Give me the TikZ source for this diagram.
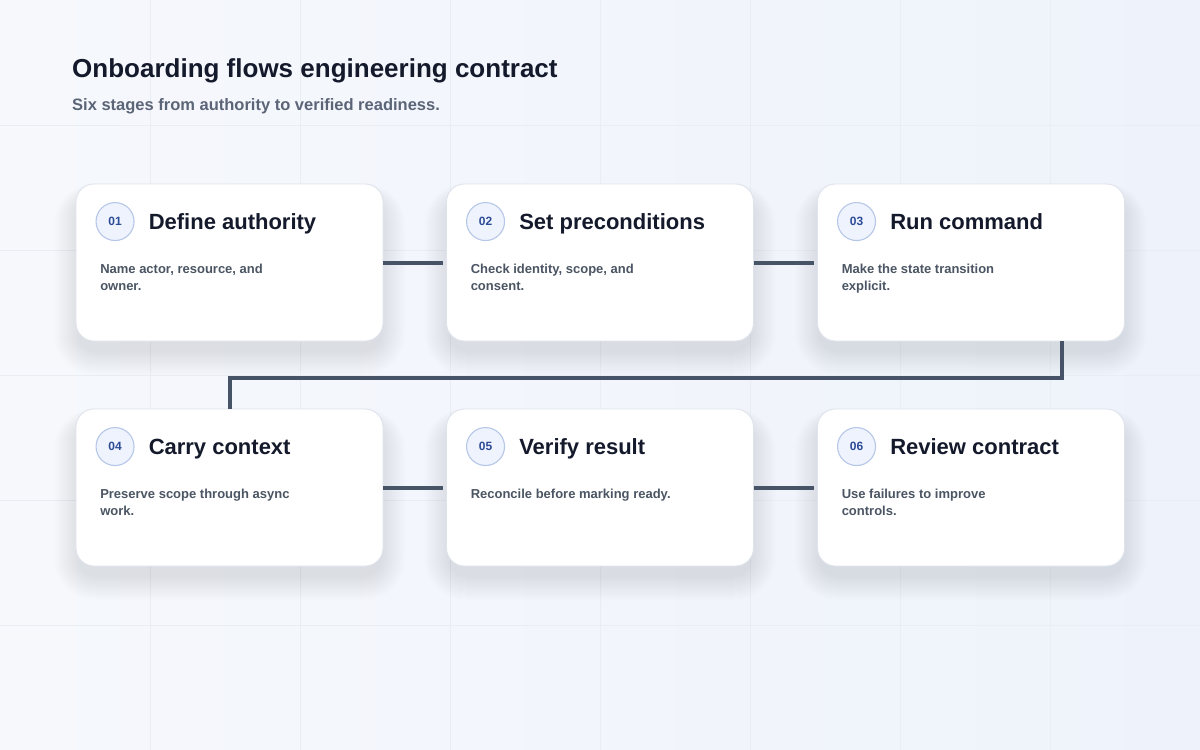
\documentclass[tikz,border=0pt]{standalone}
\usepackage{fontspec}
\setmainfont{Liberation Sans}
\usetikzlibrary{calc}
\definecolor{bgA}{HTML}{F6F8FC}
\definecolor{bgB}{HTML}{EEF3FB}
\definecolor{gridc}{HTML}{E9EDF4}
\definecolor{cardedge}{HTML}{DFE4EC}
\definecolor{titlec}{HTML}{141A2B}
\definecolor{subc}{HTML}{5B6577}
\definecolor{bodyc}{HTML}{4B5563}
\definecolor{numc}{HTML}{2D4C98}
\definecolor{circfill}{HTML}{EEF3FD}
\definecolor{circedge}{HTML}{B6C7E8}
\definecolor{linkc}{HTML}{475467}
\definecolor{shadowc}{HTML}{2A3A5C}
\tikzset{
  card/.style={draw=cardedge, line width=0.9pt, fill=white, rounded corners=18pt,
    minimum width=307pt, minimum height=157pt, inner sep=0pt},
  numbadge/.style={circle, draw=circedge, line width=1.1pt, fill=circfill,
    minimum size=38pt, inner sep=0pt, text=numc, font=\fontsize{12}{14}\selectfont\bfseries},
  cardtitle/.style={anchor=base west, inner sep=0pt, text=titlec,
    font=\fontsize{22}{26}\selectfont\bfseries},
  cardbody/.style={anchor=north west, inner sep=0pt, align=left, text=bodyc,
    font=\fontsize{13}{17}\selectfont\bfseries},
  link/.style={draw=linkc, line width=4pt},
}
\begin{document}
\begin{tikzpicture}[x=1pt,y=-1pt]
\useasboundingbox (0,0) rectangle (1200,750);
% background
\shade[left color=bgA, right color=bgB] (0,0) rectangle (1200,750);
\foreach \gx in {150,300,...,1050} \draw[gridc, line width=0.8pt] (\gx,0) -- (\gx,750);
\foreach \gy in {125,250,...,625} \draw[gridc, line width=0.8pt] (0,\gy) -- (1200,\gy);
% header
\node[anchor=base west, inner sep=0pt, text=titlec, font=\fontsize{26}{30}\selectfont\bfseries]
  (maintitle) at (72,77) {Onboarding flows engineering contract};
\node[anchor=base west, inner sep=0pt, text=subc, font=\fontsize{16.5}{20}\selectfont\bfseries]
  (subtitle) at (72,110) {Six stages from authority to verified readiness.};
% card centres
\coordinate (p1) at (229.5,262.5);
\coordinate (p2) at (600,262.5);
\coordinate (p3) at (971,262.5);
\coordinate (p4) at (229.5,487.5);
\coordinate (p5) at (600,487.5);
\coordinate (p6) at (971,487.5);
% soft shadows
\foreach \p in {p1,p2,p3,p4,p5,p6}{
  \foreach \i in {0,...,24}{
    \fill[shadowc, opacity=0.0045, rounded corners={18pt+\i pt}]
      ($(\p)+(-152-\i,-77-0.6*\i+12)$) rectangle ($(\p)+(152+\i,77+\i+12)$);
  }
}
% cards
\node[card] (c1) at (p1) {};
\node[card] (c2) at (p2) {};
\node[card] (c3) at (p3) {};
\node[card] (c4) at (p4) {};
\node[card] (c5) at (p5) {};
\node[card] (c6) at (p6) {};
% connectors
\draw[link, shorten >=3pt] (c1.east) -- (c2.west);
\draw[link, shorten >=3pt] (c2.east) -- (c3.west);
\draw[link] ([xshift=91pt]c3.south) -- ++(0,37) -| (c4.north);
\draw[link, shorten >=3pt] (c4.east) -- (c5.west);
\draw[link, shorten >=3pt] (c5.east) -- (c6.west);
% card contents
\foreach \c/\n/\t/\b in {
  c1/01/Define authority/{Name actor, resource, and\\owner.},
  c2/02/Set preconditions/{Check identity, scope, and\\consent.},
  c3/03/Run command/{Make the state transition\\explicit.},
  c4/04/Carry context/{Preserve scope through async\\work.},
  c5/05/Verify result/{Reconcile before marking ready.},
  c6/06/Review contract/{Use failures to improve\\controls.}}{
  \node[numbadge] (\c-num) at ($(\c.north west)+(39.5,38)$) {\n};
  \node[cardtitle] (\c-title) at ($(\c.north west)+(73,46)$) {\t};
  \node[cardbody] (\c-body) at ($(\c.north west)+(24.5,80.5)$) {\b};
}
\end{tikzpicture}
\end{document}
